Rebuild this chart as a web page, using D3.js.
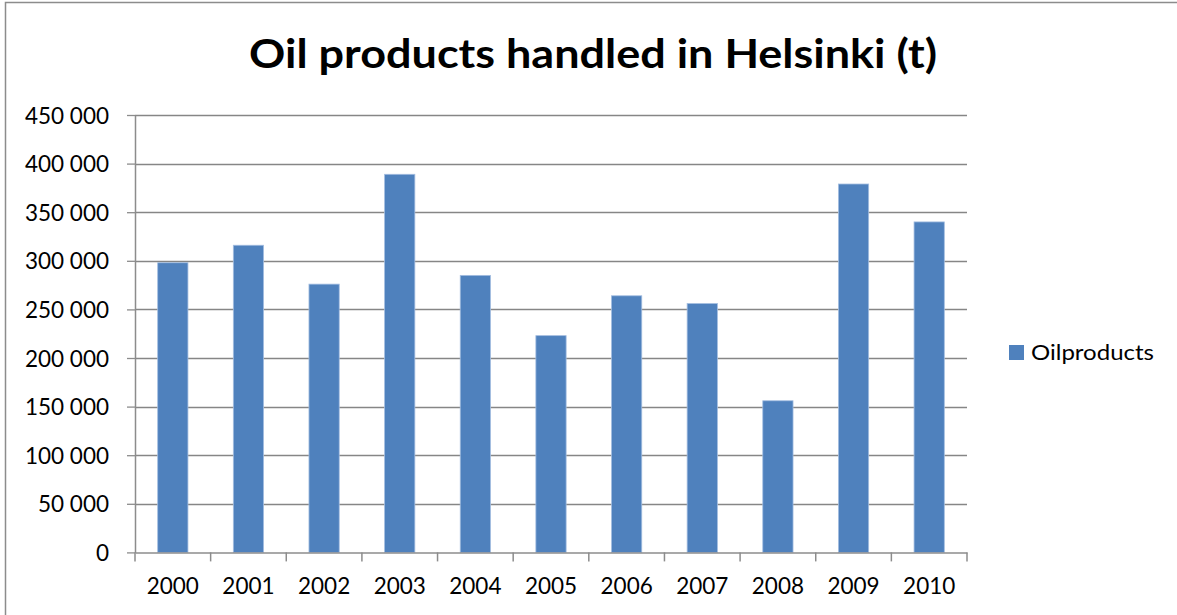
<!DOCTYPE html>
<html>
<head>
<meta charset="utf-8">
<script src="https://cdn.jsdelivr.net/npm/d3@7"></script>
<style>
  body { margin: 0; background: #fff; }
  text { font-family: Lato, "Open Sans", sans-serif; fill: #000; }
</style>
</head>
<body>
<div id="vis-container"></div>
<script>
//width and height
var w = 1177;
var h = 615;

// data
var years = ["2000", "2001", "2002", "2003", "2004", "2005", "2006", "2007", "2008", "2009", "2010"];
var oilproducts = [298000, 316000, 276000, 389000, 285000, 223000, 264000, 256000, 156000, 379000, 340000];
var yTicks = [0, 50000, 100000, 150000, 200000, 250000, 300000, 350000, 400000, 450000];
var yTickLabels = ["0", "50 000", "100 000", "150 000", "200 000", "250 000", "300 000", "350 000", "400 000", "450 000"];
var seriesName = "Oilproducts";

// plot area (note: "top" is reserved on window)
var plotLeft = 135, plotRight = 967, plotTop = 115, plotBottom = 552.4;

var xScale = d3.scaleBand()
    .domain(years)
    .range([plotLeft, plotRight])
    .padding(0);

var yScale = d3.scaleLinear()
    .domain([0, 450000])
    .range([plotBottom, plotTop]);

var barW = xScale.bandwidth() * 0.4;

var svg = d3.select("#vis-container")
    .append("svg")
    .attr("width", w)
    .attr("height", h);

// outer border
svg.append("rect")
    .attr("x", 5.5)
    .attr("y", 2.5)
    .attr("width", w + 20)
    .attr("height", h + 20)
    .attr("fill", "none")
    .attr("stroke", "#8c8c8c")
    .attr("stroke-width", 1.5);

// title
svg.append("text")
    .attr("x", 593)
    .attr("y", 68)
    .attr("text-anchor", "middle")
    .style("font-size", "41px")
    .style("font-weight", "bold")
    .attr("textLength", 688)
    .attr("lengthAdjust", "spacingAndGlyphs")
    .text("Oil products handled in Helsinki (t)");

// gridlines
svg.append("g")
    .selectAll("line")
    .data(yTicks.slice(1))
    .enter()
    .append("line")
    .attr("x1", plotLeft)
    .attr("x2", plotRight)
    .attr("y1", function (d) { return Math.round(yScale(d)) + 0.5; })
    .attr("y2", function (d) { return Math.round(yScale(d)) + 0.5; })
    .attr("stroke", "#868686")
    .attr("stroke-width", 1.3);

// bars
svg.selectAll(".bar")
    .data(oilproducts)
    .enter()
    .append("rect")
    .attr("class", "bar")
    .attr("x", function (d, i) { return xScale(years[i]) + (xScale.bandwidth() - barW) / 2; })
    .attr("y", function (d) { return yScale(d); })
    .attr("width", barW)
    .attr("height", function (d) { return plotBottom - yScale(d); })
    .attr("fill", "#4f81bd")
    .attr("stroke", "#a3bde0")
    .attr("stroke-width", 0.8);

// y axis
var yAxis = d3.axisLeft(yScale)
    .tickValues(yTicks)
    .tickSize(8)
    .tickSizeOuter(0)
    .tickPadding(18)
    .tickFormat(function (d, i) { return yTickLabels[i]; });

var gy = svg.append("g")
    .attr("transform", "translate(" + plotLeft + ",0)")
    .call(yAxis);
gy.select(".domain").attr("stroke", "#8c8c8c").attr("stroke-width", 1.5);
gy.selectAll(".tick line").attr("stroke", "#8c8c8c").attr("stroke-width", 1.3);
gy.selectAll(".tick text")
    .style("font-size", "22.5px")
    .attr("dy", "0.36em");

// x axis
var xAxis = d3.axisBottom(xScale)
    .tickSize(0)
    .tickPadding(26);

var gx = svg.append("g")
    .attr("transform", "translate(0," + plotBottom + ")")
    .call(xAxis);
gx.select(".domain").attr("stroke", "#8c8c8c").attr("stroke-width", 1.5);
gx.selectAll(".tick text")
    .style("font-size", "22.5px");

// x category boundary ticks
gx.selectAll(".bound")
    .data(d3.range(years.length + 1))
    .enter()
    .append("line")
    .attr("class", "bound")
    .attr("x1", function (i) { return plotLeft + i * xScale.step(); })
    .attr("x2", function (i) { return plotLeft + i * xScale.step(); })
    .attr("y1", 0)
    .attr("y2", 9)
    .attr("stroke", "#8c8c8c")
    .attr("stroke-width", 1.5);

// legend
var legend = svg.append("g")
    .attr("transform", "translate(1009,345)");
legend.append("rect")
    .attr("width", 15)
    .attr("height", 15)
    .attr("fill", "#4f81bd");
legend.append("text")
    .attr("x", 22)
    .attr("y", 14.5)
    .style("font-size", "22px")
    .attr("textLength", 123)
    .attr("lengthAdjust", "spacingAndGlyphs")
    .text(seriesName);
</script>
</body>
</html>
